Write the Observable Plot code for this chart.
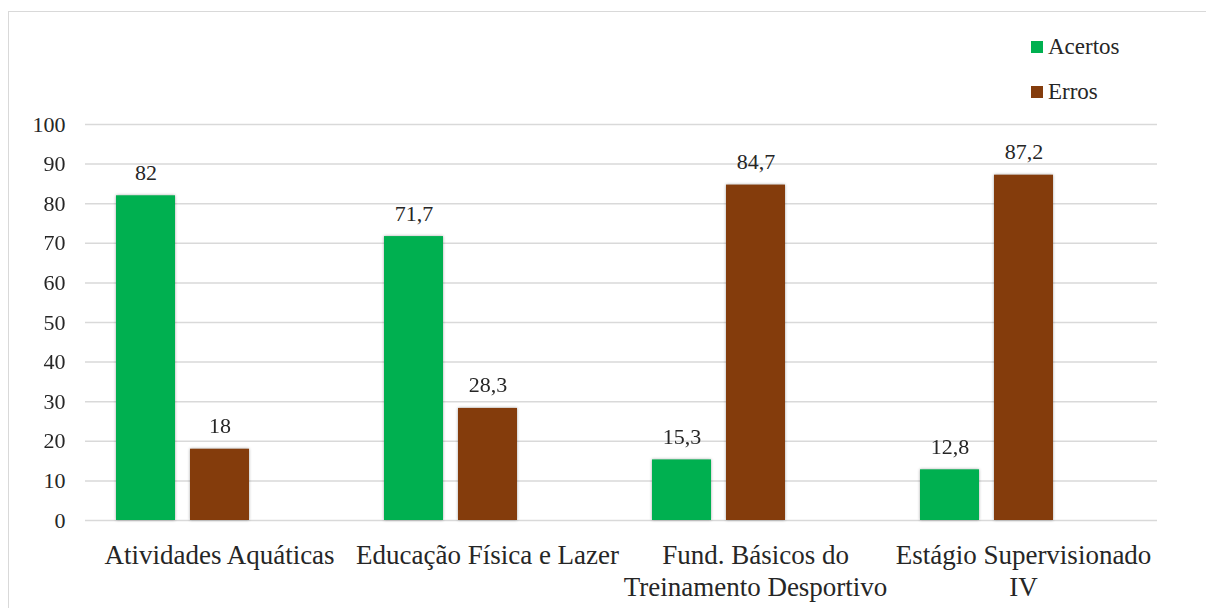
<!DOCTYPE html>
<html>
<head>
<meta charset="utf-8">
<script src="https://cdn.jsdelivr.net/npm/d3@7"></script>
<script src="https://cdn.jsdelivr.net/npm/@observablehq/plot@0.6"></script>
<style>
  html, body { margin: 0; padding: 0; background: #fff; overflow: hidden; }
  #wrap { position: relative; width: 1206px; height: 608px; }
  #frame { position: absolute; left: 8px; top: 11px; width: 1400px; height: 800px; border: 1.5px solid #d9d9d9; box-sizing: border-box; }
  #chart { position: absolute; left: 0; top: 0; }
  #chart svg, #chart svg text { font-family: "Liberation Serif", "Times New Roman", "DejaVu Serif", serif !important; }
  #chart svg g[aria-label="bar"] { filter: drop-shadow(0px 0px 1.5px rgba(0,0,0,0.35)); }
  .sw { position: absolute; left: 1031px; width: 12px; height: 12px; }
  .lt { position: absolute; left: 1048px; font-family: "Liberation Serif", "Times New Roman", "DejaVu Serif", serif; font-size: 23px; line-height: normal; color: #262626; white-space: nowrap; }
</style>
</head>
<body>
<div id="wrap">
  <div id="frame"></div>
  <div id="chart"></div>
  <div id="legend"></div>
</div>
<script>
const categories = ["Atividades Aquáticas", "Educação Física e Lazer", "Fund. Básicos do\nTreinamento Desportivo", "Estágio Supervisionado\nIV"];
const series = ["Acertos", "Erros"];
const acertos = [82, 71.7, 15.3, 12.8];
const erros = [18, 28.3, 84.7, 87.2];
const colors = ["#00B050", "#843C0C"];
const yTicks = [0, 10, 20, 30, 40, 50, 60, 70, 80, 90, 100];

const data = [];
categories.forEach((c, i) => {
  data.push({cat: c, series: series[0], value: acertos[i]});
  data.push({cat: c, series: series[1], value: erros[i]});
});
const fmt = v => String(v).replace(".", ",");

const chart = Plot.plot({
  width: 1206,
  height: 608,
  marginTop: 124,
  marginBottom: 88,
  marginLeft: 85,
  marginRight: 49,
  style: {fontFamily: "'Liberation Serif', 'Times New Roman', serif", color: "#262626", background: "transparent"},
  fx: {domain: categories, padding: 0, label: null, axis: null},
  x: {domain: [...series, "_"], paddingInner: 0.203, paddingOuter: 0.41, axis: null},
  y: {domain: [0, 100], axis: null},
  color: {domain: series, range: colors},
  marks: [
    Plot.ruleY(yTicks, {stroke: "#d9d9d9", strokeWidth: 1.5}),
    Plot.barY(data, {fx: "cat", x: "series", y: "value", fill: "series"}),
    Plot.text(data, {fx: "cat", x: "series", y: "value", text: d => fmt(d.value), dy: -23, fontSize: 22, fill: "#262626"}),
    Plot.axisY({ticks: yTicks, tickSize: 0, tickPadding: 20, fontSize: 22, label: null}),
    Plot.axisFx({anchor: "bottom", tickSize: 0, tickPadding: 21, fontSize: 27, lineHeight: 1.17, label: null})
  ]
});
document.getElementById("chart").appendChild(chart);

const leg = document.getElementById("legend");
const swTops = [41, 86];
const textTops = [33.5, 78.5];
series.forEach((s, i) => {
  const sw = document.createElement("div");
  sw.className = "sw";
  sw.style.top = swTops[i] + "px";
  sw.style.background = colors[i];
  leg.appendChild(sw);
  const t = document.createElement("div");
  t.className = "lt";
  t.style.top = textTops[i] + "px";
  t.textContent = s;
  leg.appendChild(t);
});
</script>
</body>
</html>
